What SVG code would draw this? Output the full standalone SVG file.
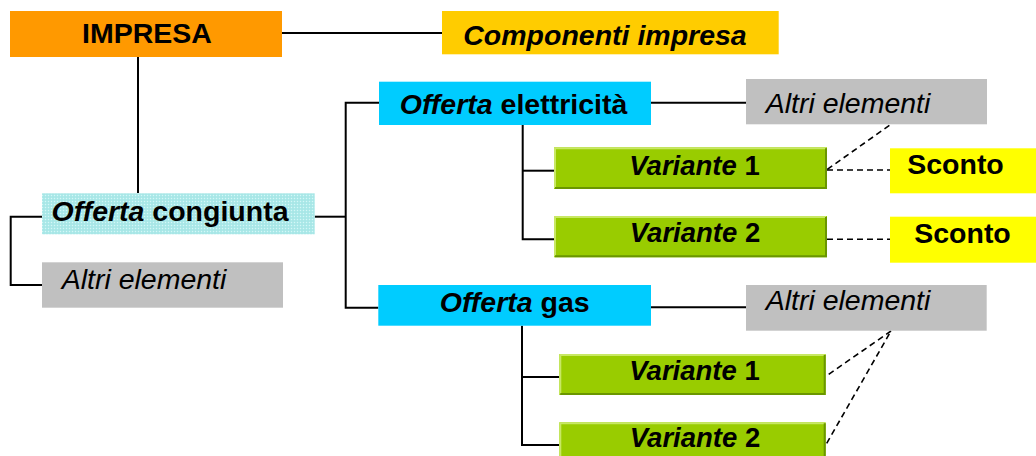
<svg xmlns="http://www.w3.org/2000/svg" width="1036" height="456" viewBox="0 0 1036 456">
<defs>
<pattern id="dots" width="3" height="3" patternUnits="userSpaceOnUse">
<rect width="3" height="3" fill="#ADEAEA"/>
<rect x="0" y="0" width="1" height="1" fill="#D6F6F6"/>
<rect x="1.5" y="1.5" width="1" height="1" fill="#9ADCDC"/>
</pattern>
<style>
text{font-family:"Liberation Sans",Arial,sans-serif;font-size:28.5px;fill:#000}
.b{font-weight:bold}
.i{font-style:italic}
.v{font-size:27.5px}
.ln{stroke:#000;stroke-width:2;fill:none}
.dl{stroke:#000;stroke-width:1.6;fill:none;stroke-dasharray:6 4}
.hi{stroke:#C8E864;stroke-width:2;fill:none}
.sh{stroke:#6A9600;stroke-width:2;fill:none}
</style>
</defs>
<rect width="1036" height="456" fill="#fff"/>
<g id="connectors">
<polyline class="ln" points="282,33 442,33"/>
<polyline class="ln" points="138,57 138,193"/>
<polyline class="ln" points="42,216.7 10.7,216.7 10.7,285 42,285"/>
<polyline class="ln" points="314.7,216.7 345.7,216.7"/>
<polyline class="ln" points="379,102.7 345.7,102.7 345.7,307.7 378.3,307.7"/>
<polyline class="ln" points="651,102.7 746,102.7"/>
<polyline class="ln" points="651,307.3 746,307.3"/>
<polyline class="ln" points="522.7,125 522.7,239.3 554,239.3"/>
<polyline class="ln" points="522.7,170.7 554,170.7"/>
<polyline class="ln" points="522,325.7 522,445 559.3,445"/>
<polyline class="ln" points="522,377 559.3,377"/>
<line class="dl" x1="827" y1="170" x2="890" y2="170"/>
<line class="dl" x1="827" y1="239.3" x2="890" y2="239.3"/>
<line class="dl" x1="827.3" y1="169.3" x2="891" y2="124.3"/>
<line class="dl" x1="828.7" y1="374.3" x2="891" y2="331"/>
<line class="dl" x1="826.7" y1="443.3" x2="891" y2="331"/>
</g>
<g id="impresa">
<rect x="10" y="11" width="272" height="46" fill="#FF9900"/>
<text class="b" x="147" y="43.3" text-anchor="middle">IMPRESA</text>
</g>
<g id="componenti">
<rect x="442" y="11" width="336.7" height="43.3" fill="#FFCC00"/>
<text class="b i" x="605" y="45" text-anchor="middle">Componenti impresa</text>
</g>
<g id="congiunta">
<rect x="42" y="193.3" width="272.7" height="41" fill="url(#dots)"/>
<text class="b" x="170" y="220.7" text-anchor="middle"><tspan class="i">Offerta</tspan> congiunta</text>
</g>
<g id="altri-congiunta">
<rect x="42" y="262.3" width="241" height="45.4" fill="#C0C0C0"/>
<text class="i" x="144" y="289.3" text-anchor="middle">Altri elementi</text>
</g>
<g id="elettricita">
<rect x="379" y="81.7" width="272" height="43.3" fill="#00CCFF"/>
<text class="b" x="513.5" y="114" text-anchor="middle"><tspan class="i">Offerta</tspan> elettricità</text>
</g>
<g id="altri-elettricita">
<rect x="746" y="79" width="241" height="45.3" fill="#C0C0C0"/>
<text class="i" x="848" y="112.7" text-anchor="middle">Altri elementi</text>
</g>
<g id="variante1-el">
<rect x="554" y="147.3" width="273" height="41.7" fill="#99CC00"/>
<polyline class="hi" points="555,188 555,148.3 826,148.3"/>
<polyline class="sh" points="555,188 826,188 826,148.3"/>
<text class="b v" x="694.5" y="175" text-anchor="middle"><tspan class="i">Variante</tspan> 1</text>
</g>
<g id="variante2-el">
<rect x="554" y="216" width="273" height="41.3" fill="#99CC00"/>
<polyline class="hi" points="555,256.3 555,217 826,217"/>
<polyline class="sh" points="555,256.3 826,256.3 826,217"/>
<text class="b v" x="695" y="241.7" text-anchor="middle"><tspan class="i">Variante</tspan> 2</text>
</g>
<g id="sconto1">
<rect x="890" y="148.3" width="146" height="45" fill="#FFFF00"/>
<text class="b" x="955.5" y="174.3" text-anchor="middle">Sconto</text>
</g>
<g id="sconto2">
<rect x="890" y="216.7" width="146" height="46" fill="#FFFF00"/>
<text class="b" x="962.5" y="243" text-anchor="middle">Sconto</text>
</g>
<g id="gas">
<rect x="378.3" y="285" width="272.7" height="40.7" fill="#00CCFF"/>
<text class="b" x="514.7" y="311.7" text-anchor="middle"><tspan class="i">Offerta</tspan> gas</text>
</g>
<g id="altri-gas">
<rect x="746" y="285" width="240.7" height="45.7" fill="#C0C0C0"/>
<text class="i" x="848" y="310" text-anchor="middle">Altri elementi</text>
</g>
<g id="variante1-gas">
<rect x="559.3" y="354" width="266.4" height="41" fill="#99CC00"/>
<polyline class="hi" points="560.3,394 560.3,355 824.7,355"/>
<polyline class="sh" points="560.3,394 824.7,394 824.7,355"/>
<text class="b v" x="694.5" y="380" text-anchor="middle"><tspan class="i">Variante</tspan> 1</text>
</g>
<g id="variante2-gas">
<rect x="559.3" y="422.3" width="266.4" height="41" fill="#99CC00"/>
<polyline class="hi" points="560.3,462 560.3,423.3 824.7,423.3"/>
<polyline class="sh" points="824.7,423.3 824.7,462"/>
<text class="b v" x="695" y="446.7" text-anchor="middle"><tspan class="i">Variante</tspan> 2</text>
</g>
</svg>
